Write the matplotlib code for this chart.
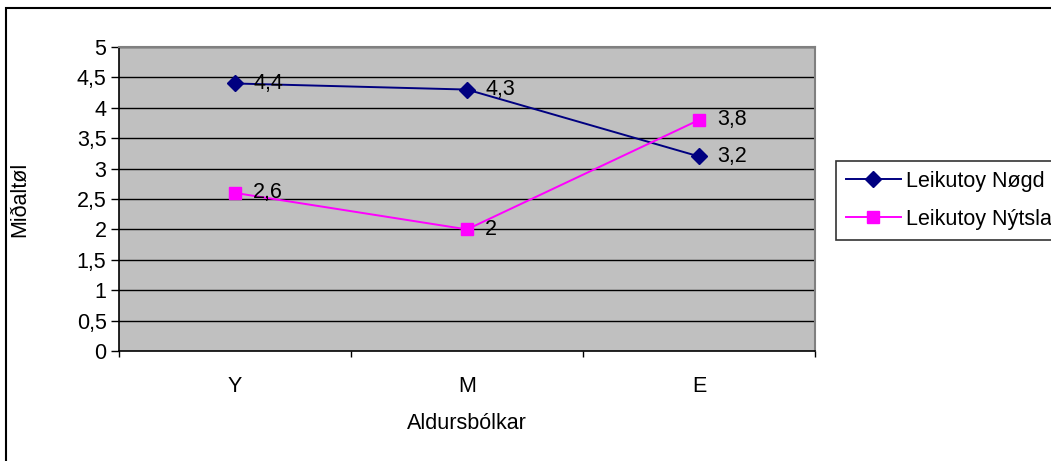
import matplotlib
matplotlib.use("Agg")
import matplotlib.pyplot as plt
from matplotlib.patches import Rectangle

categories = ["Y", "M", "E"]
nogd = [4.4, 4.3, 3.2]
nytsla = [2.6, 2.0, 3.8]
nogd_labels = ["4,4", "4,3", "3,2"]
nytsla_labels = ["2,6", "2", "3,8"]
yticks = [0, 0.5, 1, 1.5, 2, 2.5, 3, 3.5, 4, 4.5, 5]
ytick_labels = ["0", "0,5", "1", "1,5", "2", "2,5", "3", "3,5", "4", "4,5", "5"]

plt.rcParams['font.family'] = ['Liberation Sans', 'DejaVu Sans']
FS = 15.5
W, H = 1051, 461
fig = plt.figure(figsize=(W / 100, H / 100), dpi=100)
fig.patch.set_facecolor("white")

# outer border (extends past the right/bottom edges)
fig.add_artist(Rectangle((6 / W, -0.05), 1.2, 1 - 8 / H + 0.05, transform=fig.transFigure,
                         fill=False, edgecolor="black", linewidth=1.5))

left, right, top, bottom = 119, 815, 47, 351
ax = fig.add_axes([left / W, 1 - bottom / H, (right - left) / W, (bottom - top) / H])
ax.set_facecolor("#C0C0C0")
ax.set_xlim(0, 3)
ax.set_ylim(0, 5)
for y in yticks[1:]:
    ax.axhline(y, color="black", linewidth=1.0, zorder=1)

x = [0.5, 1.5, 2.5]
ax.plot(x, nogd, color="#000080", marker="D", markersize=8.5, linewidth=1.4, label="Leikutoy Nøgd", zorder=3)
ax.plot(x, nytsla, color="#FF00FF", marker="s", markersize=8.5, linewidth=1.4, label="Leikutoy Nýtsla", zorder=3)

for xi, v, t in zip(x, nogd, nogd_labels):
    ax.annotate(t, (xi, v), xytext=(13, 0), textcoords="offset points", va="center", ha="left", fontsize=FS, zorder=4)
for xi, v, t in zip(x, nytsla, nytsla_labels):
    ax.annotate(t, (xi, v), xytext=(13, 0), textcoords="offset points", va="center", ha="left", fontsize=FS, zorder=4)

ax.set_yticks(yticks)
ax.set_yticklabels(ytick_labels, fontsize=FS)
ax.set_xticks([0, 1, 2, 3])
ax.set_xticklabels([])
ax.set_xticks(x, minor=True)
ax.set_xticklabels(categories, minor=True, fontsize=FS)
ax.tick_params(axis="x", which="minor", length=0, pad=18)
ax.tick_params(axis="x", which="major", length=4, direction="out", width=1)
ax.tick_params(axis="y", length=6, direction="out", width=1, pad=3)

for s in ["top", "right"]:
    ax.spines[s].set_color("#808080")
    ax.spines[s].set_linewidth(1.5)
for s in ["left", "bottom"]:
    ax.spines[s].set_color("black")
    ax.spines[s].set_linewidth(1.2)

fig.text(467 / W, 1 - 423 / H, "Aldursbólkar", ha="center", va="center", fontsize=FS)
fig.text(20 / W, 1 - 199 / H, "Miðaltøl", ha="center", va="center", rotation=90, fontsize=FS)

leg = fig.legend(loc="upper left", bbox_to_anchor=(836 / W, 1 - 161 / H), fontsize=FS,
                 frameon=True, fancybox=False, edgecolor="black", handlelength=2.55,
                 borderpad=0.45, labelspacing=0.8, handletextpad=0.25, borderaxespad=0)
leg.get_frame().set_linewidth(1.2)

fig.savefig("out.png", dpi=100)
